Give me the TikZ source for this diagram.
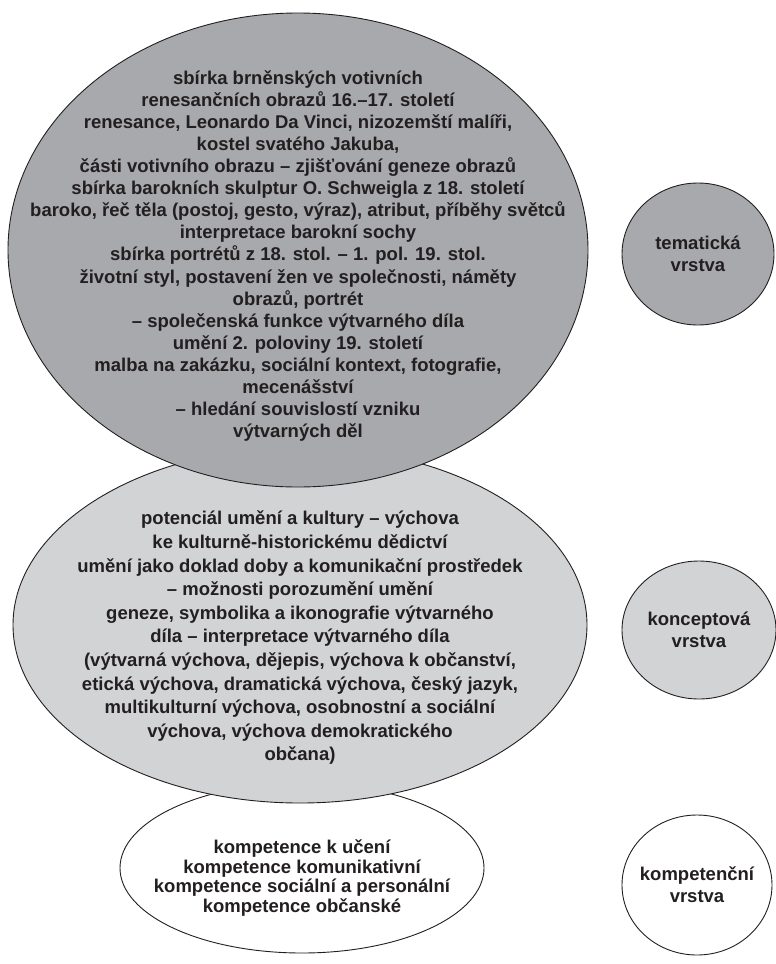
\documentclass[tikz,border=0pt]{standalone}
\usepackage{fontspec}
\setmainfont{Liberation Sans}
\usetikzlibrary{shapes.geometric}
\definecolor{inkc}{HTML}{231F20}
\definecolor{darkfill}{HTML}{A7A9AC}
\definecolor{lightfill}{HTML}{D1D3D4}
\begin{document}
\begin{tikzpicture}[x=1pt,y=-1pt,
  oval/.style={ellipse,draw=inkc,line width=0.9pt,inner sep=0pt,outer sep=0pt},
  bigtext/.style={text=inkc,align=center,inner sep=0pt,font=\bfseries\fontsize{18.5}{22.1}\selectfont},
  midtext/.style={text=inkc,align=center,inner sep=0pt,font=\bfseries\fontsize{18.5}{23.6}\selectfont},
  smalltext/.style={text=inkc,align=center,inner sep=0pt,font=\bfseries\fontsize{18.5}{19.5}\selectfont},
  tagtext/.style={text=inkc,align=center,inner sep=0pt,font=\bfseries\fontsize{18.5}{21.7}\selectfont}]
\useasboundingbox (0,0) rectangle (776,964);

% layer ovals, lowest first so that each one overlaps the next
\node[oval,fill=white,minimum width=364,minimum height=170] (compOval) at (302,868) {};
\node[oval,fill=lightfill,minimum width=574,minimum height=356] (concOval) at (300,625) {};
\node[oval,fill=darkfill,minimum width=580,minimum height=474] (themOval) at (298,250) {};

% layer names on the right
\node[oval,fill=darkfill,minimum width=152,minimum height=142] (themTag) at (698,254) {};
\node[oval,fill=lightfill,minimum width=154,minimum height=138] (concTag) at (699,630) {};
\node[oval,fill=white,minimum width=150,minimum height=140] (compTag) at (697,885) {};

\node[bigtext] (themText) at (298,256) {sbírka brněnských votivních\\
renesančních obrazů 16.–17. století\\
renesance, Leonardo Da Vinci, nizozemští malíři,\\
kostel svatého Jakuba,\\
části votivního obrazu – zjišťování geneze obrazů\\
sbírka barokních skulptur O. Schweigla z 18. století\\
baroko, řeč těla (postoj, gesto, výraz), atribut, příběhy světců\\
interpretace barokní sochy\\
sbírka portrétů z 18. stol. – 1. pol. 19. stol.\\
životní styl, postavení žen ve společnosti, náměty\\
obrazů, portrét\\
– společenská funkce výtvarného díla\\
umění 2. poloviny 19. století\\
malba na zakázku, sociální kontext, fotografie,\\
mecenášství\\
– hledání souvislostí vzniku\\
výtvarných děl};

\node[midtext] (concText) at (300,638) {potenciál umění a kultury – výchova\\
ke kulturně-historickému dědictví\\
umění jako doklad doby a komunikační prostředek\\
– možnosti porozumění umění\\
geneze, symbolika a ikonografie výtvarného\\
díla – interpretace výtvarného díla\\
(výtvarná výchova, dějepis, výchova k občanství,\\
etická výchova, dramatická výchova, český jazyk,\\
multikulturní výchova, osobnostní a sociální\\
výchova, výchova demokratického\\
občana)};

\node[smalltext] (compText) at (302,878) {kompetence k učení\\
kompetence komunikativní\\
kompetence sociální a personální\\
kompetence občanské};

\node[tagtext] (themTagText) at (themTag.center) {tematická\\vrstva};
\node[tagtext] (concTagText) at (concTag.center) {konceptová\\vrstva};
\node[tagtext] (compTagText) at (compTag.center) {kompetenční\\vrstva};
\end{tikzpicture}
\end{document}
